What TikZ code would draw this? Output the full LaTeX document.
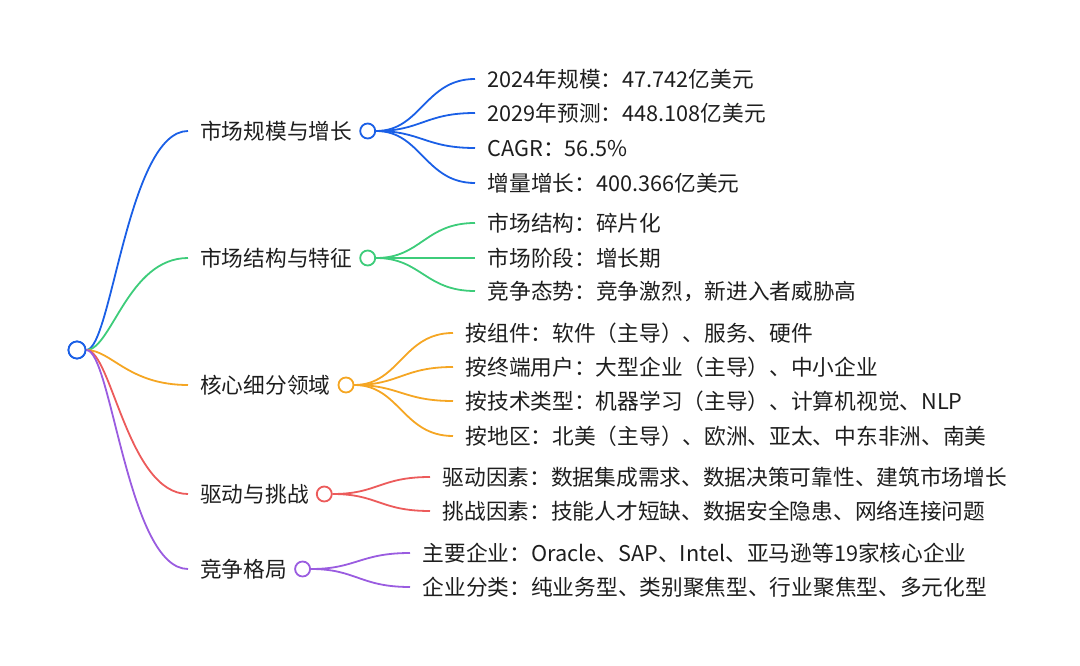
\documentclass[tikz,border=0pt]{standalone}
\usepackage{fontspec}
\setmainfont{Noto Sans CJK SC}
\usepackage{xcolor}
\usepackage{tikz}
\usetikzlibrary{positioning,calc}

\definecolor{ink}{HTML}{1E1E1E}
\definecolor{mblue}{HTML}{1A5FE6}
\definecolor{mgreen}{HTML}{3DCC7A}
\definecolor{morange}{HTML}{F5A623}
\definecolor{mred}{HTML}{EC5B5B}
\definecolor{mpurple}{HTML}{9A5CE0}

\begin{document}
\begin{tikzpicture}[
  x=1pt, y=-1pt,
  node distance=7pt,
  hub/.style={draw, circle, line width=1.8pt, fill=white, minimum size=15pt, inner sep=0pt},
  roothub/.style={hub, minimum size=17pt},
  topic/.style={anchor=west, inner sep=0pt, text=ink, font=\fontsize{21.7}{26}\selectfont,
    text height=19.1pt, text depth=2.6pt},
  leaf/.style={anchor=west, inner ysep=0pt, inner xsep=12.5pt, text=ink, font=\fontsize{21.7}{26}\selectfont,
    text height=19.1pt, text depth=2.6pt},
  branch/.style={line width=1.8pt}
]
\useasboundingbox (0,0) rectangle (1080,666);

% root
\node[roothub, draw=mblue] (root) at (77,350) {};

% main topics
\node[topic] (size) at (200,131) {市场规模与增长};
\node[hub, draw=mblue, right=of size] (sizeH) {};
\node[topic] (struct) at (200,258) {市场结构与特征};
\node[hub, draw=mgreen, right=of struct] (structH) {};
\node[topic] (seg) at (200,385) {核心细分领域};
\node[hub, draw=morange, right=of seg] (segH) {};
\node[topic] (drive) at (200,494) {驱动与挑战};
\node[hub, draw=mred, right=of drive] (driveH) {};
\node[topic] (comp) at (200,569) {竞争格局};
\node[hub, draw=mpurple, right=of comp] (compH) {};

% leaves
\node[leaf] (size1) at (475,79) {2024年规模：47.742亿美元};
\node[leaf] (size2) at (475,113) {2029年预测：448.108亿美元};
\node[leaf] (size3) at (475,148) {CAGR：56.5\%};
\node[leaf] (size4) at (475,183) {增量增长：400.366亿美元};

\node[leaf] (struct1) at (475,223) {市场结构：碎片化};
\node[leaf] (struct2) at (475,258) {市场阶段：增长期};
\node[leaf] (struct3) at (475,291) {竞争态势：竞争激烈，新进入者威胁高};

\node[leaf] (seg1) at (453,333) {按组件：软件（主导）、服务、硬件};
\node[leaf] (seg2) at (453,367) {按终端用户：大型企业（主导）、中小企业};
\node[leaf] (seg3) at (453,401) {按技术类型：机器学习（主导）、计算机视觉、NLP};
\node[leaf] (seg4) at (453,436) {按地区：北美（主导）、欧洲、亚太、中东非洲、南美};

\node[leaf] (drive1) at (430,477) {驱动因素：数据集成需求、数据决策可靠性、建筑市场增长};
\node[leaf] (drive2) at (430,511) {挑战因素：技能人才短缺、数据安全隐患、网络连接问题};

\node[leaf] (comp1) at (410,553) {主要企业：Oracle、SAP、Intel、亚马逊等19家核心企业};
\node[leaf] (comp2) at (410,587) {企业分类：纯业务型、类别聚焦型、行业聚焦型、多元化型};

% root to topics
\draw[branch, mblue] (root.east) .. controls +(25,0) and +(-60,0) .. ([xshift=-12pt]size.west);
\draw[branch, mgreen] (root.east) .. controls +(25,0) and +(-60,0) .. ([xshift=-12pt]struct.west);
\draw[branch, morange] (root.east) .. controls +(25,0) and +(-60,0) .. ([xshift=-12pt]seg.west);
\draw[branch, mred] (root.east) .. controls +(25,0) and +(-60,0) .. ([xshift=-12pt]drive.west);
\draw[branch, mpurple] (root.east) .. controls +(25,0) and +(-60,0) .. ([xshift=-12pt]comp.west);
\node[roothub, draw=mblue] at (root) {};

% topics to leaves
\foreach \l in {size1,size2,size3,size4}
  \draw[branch, mblue] (sizeH.east) .. controls +(45,0) and +(-50,0) .. (\l.west);
\foreach \l in {struct1,struct2,struct3}
  \draw[branch, mgreen] (structH.east) .. controls +(45,0) and +(-50,0) .. (\l.west);
\foreach \l in {seg1,seg2,seg3,seg4}
  \draw[branch, morange] (segH.east) .. controls +(45,0) and +(-50,0) .. (\l.west);
\foreach \l in {drive1,drive2}
  \draw[branch, mred] (driveH.east) .. controls +(45,0) and +(-50,0) .. (\l.west);
\foreach \l in {comp1,comp2}
  \draw[branch, mpurple] (compH.east) .. controls +(45,0) and +(-50,0) .. (\l.west);
\end{tikzpicture}
\end{document}
